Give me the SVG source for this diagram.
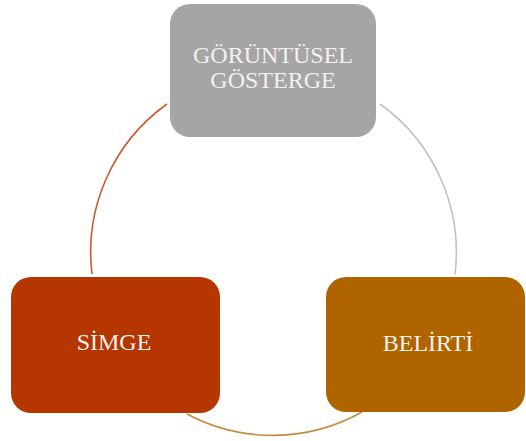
<svg xmlns="http://www.w3.org/2000/svg" width="526" height="441" viewBox="0 0 526 441">
<style>
.lbl{font-family:"Liberation Serif","DejaVu Serif",serif;font-size:24px;fill:#F4F1EE;text-anchor:middle}
.arc{fill:none;stroke-width:1.6}
</style>
<rect width="526" height="441" fill="#FFFFFF"/>
<g id="connectors">
<path class="arc" d="M167,104 A182.3,182.3 0 0 0 92,274" stroke="#C95A2F"/>
<path class="arc" d="M380,104 A182.3,182.3 0 0 1 455,274" stroke="#C2C2C2"/>
<path class="arc" d="M362,412 A182.3,182.3 0 0 1 187,414" stroke="#C98B3E"/>
</g>
<g id="node-gorsel">
<rect x="170" y="4" width="206" height="133" rx="20" fill="#A5A5A5"/>
<text class="lbl" x="273" y="63">GÖRÜNTÜSEL</text>
<text class="lbl" x="273" y="88">GÖSTERGE</text>
</g>
<g id="node-simge">
<rect x="11" y="277" width="209" height="136" rx="20" fill="#B63600"/>
<text class="lbl" x="114" y="350">SİMGE</text>
</g>
<g id="node-belirti">
<rect x="326" y="277" width="199" height="135" rx="20" fill="#AF6400"/>
<text class="lbl" x="428" y="351">BELİRTİ</text>
</g>
</svg>
